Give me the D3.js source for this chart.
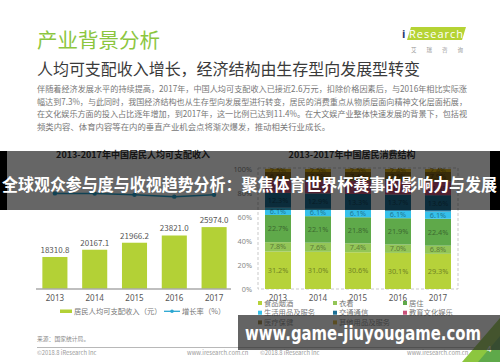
<!DOCTYPE html>
<html>
<head>
<meta charset="utf-8">
<script src="https://cdn.jsdelivr.net/npm/d3@7"></script>
<style>
  body { margin: 0; background: #fff; }
  svg { display: block; font-family: "Noto Sans CJK SC", "Noto Sans", sans-serif; }
</style>
</head>
<body>
<script>
// data
var years = ['2013', '2014', '2015', '2016', '2017'];
var income = [18310.8, 20167.1, 21966.2, 23821.0, 25974.0];
var growth = [8.1, 8.0, 7.4, 6.3, 7.3];

var categories = ['食品烟酒', '衣着', '居住', '生活用品及服务', '交通通信', '教育文化娱乐', '医疗保健', '其他用品及服务'];
var catColors = ['#b6d23a', '#93c557', '#5fa94a', '#35c0ea', '#1d6f94', '#c9517a', '#8d6b1a', '#dcae12'];
var food = [31.2, 31.0, 30.6, 30.1, 29.3];
var clothing = [7.8, 7.6, 7.4, 7.0, 6.8];
var housing = [22.7, 22.1, 21.8, 21.9, 22.4];
var household = [6.1, 6.1, 6.1, 6.1, 6.1];
var transport = [12.3, 12.9, 13.3, 13.7, 13.6];
var education = [10.6, 10.6, 11.0, 11.2, 11.4];
var medical = [6.9, 7.2, 7.4, 7.6, 7.9];
var other = [2.5, 2.5, 2.5, 2.4, 2.4];
var pctTicks = [0, 20, 40, 60, 80, 100];

var paragraph = [
  '伴随着经济发展水平的持续提高，2017年，中国人均可支配收入已接近2.6万元，扣除价格因素后，与2016年相比实际涨',
  '幅达到7.3%，与此同时，我国经济结构也从生存型向发展型进行转变，居民的消费重点从物质层面向精神文化层面拓展，',
  '在文化娱乐方面的投入占比逐年增加，到2017年，这一比例已达到11.4%。在大文娱产业整体快速发展的背景下，包括视',
  '频类内容、体育内容等在内的垂直产业机会点将渐次爆发，推动相关行业成长。'
];

var w = 500, h = 362;
var svg = d3.select('body').append('svg').attr('width', w).attr('height', h);

// header
svg.append('text').attr('x', 37).attr('y', 48).attr('font-size', 20.5)
  .attr('fill', '#8cc63f').text('产业背景分析');
svg.append('text').attr('x', 37).attr('y', 75).attr('font-size', 16)
  .attr('fill', '#3a3a3a').attr('textLength', 383).attr('lengthAdjust', 'spacingAndGlyphs')
  .text('人均可支配收入增长，经济结构由生存型向发展型转变');

// logo
svg.append('path').attr('d', 'M411,27 L466,27 L462,40 L407,40 Z').attr('fill', '#b5d334');
svg.append('text').attr('x', 402).attr('y', 38).attr('font-size', 11)
  .attr('font-family', 'Open Sans').attr('font-weight', 'bold').attr('fill', '#1f3a6e').text('i');
svg.append('text').attr('x', 409).attr('y', 38).attr('font-size', 11)
  .attr('font-family', 'Open Sans').attr('fill', '#fff').attr('textLength', 54).text('Research');
svg.append('text').attr('x', 411).attr('y', 52).attr('font-size', 5.5)
  .attr('fill', '#999').attr('textLength', 52).attr('lengthAdjust', 'spacing').text('艾瑞咨询');

svg.selectAll('.para').data(paragraph).enter().append('text')
  .attr('class', 'para')
  .attr('x', 37)
  .attr('y', function(d, i) { return 92 + i * 12.5; })
  .attr('font-size', 8.4)
  .attr('fill', '#777')
  .attr('textLength', function(d, i) { return i < 3 ? 430 : null; })
  .attr('lengthAdjust', 'spacingAndGlyphs')
  .text(function(d) { return d; });

// ---------- left chart: income bars + growth line
svg.append('text').attr('x', 133).attr('y', 158).attr('text-anchor', 'middle')
  .attr('font-size', 9).attr('font-weight', 'bold').attr('fill', '#333')
  .text('2013-2017年中国居民人均可支配收入');

var x1 = d3.scaleBand().domain(years).range([35, 234]).paddingInner(0.37).paddingOuter(0.185);
var y1 = d3.scaleLinear().domain([10100, 26000]).range([289, 227]);
var yg = d3.scaleLinear().domain([0, 10]).range([208, 190]);

svg.selectAll('.inc').data(income).enter().append('rect')
  .attr('class', 'inc')
  .attr('x', function(d, i) { return x1(years[i]); })
  .attr('y', function(d) { return y1(d); })
  .attr('width', x1.bandwidth())
  .attr('height', function(d) { return 289 - y1(d); })
  .attr('fill', '#b3d136');

svg.selectAll('.incl').data(income).enter().append('text')
  .attr('class', 'incl')
  .attr('x', function(d, i) { return x1(years[i]) + x1.bandwidth() / 2; })
  .attr('y', function(d) { return y1(d) - 4; })
  .attr('text-anchor', 'middle').attr('font-size', 8).attr('fill', '#555')
  .text(function(d) { return d.toFixed(1); });

var ax1 = svg.append('g').attr('transform', 'translate(0,289)')
  .call(d3.axisBottom(x1).tickSize(0).tickPadding(6));
ax1.select('.domain').attr('stroke', '#aaa').attr('stroke-width', 1.5).attr('d', 'M36,0H231');
ax1.selectAll('text').attr('font-size', 8).attr('fill', '#555').attr('font-family', 'Noto Sans');

var line = d3.line()
  .x(function(d, i) { return x1(years[i]) + x1.bandwidth() / 2; })
  .y(function(d) { return yg(d); });
svg.append('path').datum(growth).attr('d', line)
  .attr('fill', 'none').attr('stroke', '#2aa6d1').attr('stroke-width', 1.5);
svg.selectAll('.gdot').data(growth).enter().append('circle')
  .attr('cx', function(d, i) { return x1(years[i]) + x1.bandwidth() / 2; })
  .attr('cy', function(d) { return yg(d); })
  .attr('r', 2.2).attr('fill', '#2aa6d1');

// left legend
svg.append('rect').attr('x', 60).attr('y', 309.5).attr('width', 12).attr('height', 3.5).attr('fill', '#b3d136');
svg.append('text').attr('x', 74).attr('y', 314).attr('font-size', 7.3).attr('fill', '#777')
  .text('居民人均可支配收入（元）');
svg.append('line').attr('x1', 164).attr('x2', 180).attr('y1', 311.3).attr('y2', 311.3)
  .attr('stroke', '#2aa6d1').attr('stroke-width', 1.3);
svg.append('circle').attr('cx', 172).attr('cy', 311.3).attr('r', 1.8).attr('fill', '#2aa6d1');
svg.append('text').attr('x', 182).attr('y', 314).attr('font-size', 7.3).attr('fill', '#777')
  .text('增长率（%）');

// ---------- right chart: stacked consumption structure
svg.append('text').attr('x', 352).attr('y', 158).attr('text-anchor', 'middle')
  .attr('font-size', 9).attr('font-weight', 'bold').attr('fill', '#333')
  .text('2013-2017年中国居民消费结构');

var series = [food, clothing, housing, household, transport, education, medical, other];
var rows = years.map(function(y, i) {
  var r = {year: y};
  categories.forEach(function(c, k) { r[c] = series[k][i]; });
  return r;
});
var stacked = d3.stack().keys(categories)(rows);

var x2 = d3.scaleBand().domain(years).range([258, 458]).paddingInner(0.35).paddingOuter(0.175);
var y2 = d3.scaleLinear().domain([0, 100]).range([289, 169]);

svg.append('rect').attr('x', 258).attr('y', 168).attr('width', 200).attr('height', 121)
  .attr('fill', 'none').attr('stroke', '#bbb').attr('stroke-width', 0.8).attr('stroke-dasharray', '3,2');

var layers = svg.selectAll('.layer').data(stacked).enter().append('g')
  .attr('class', 'layer')
  .attr('fill', function(d, k) { return catColors[k]; });
layers.selectAll('rect').data(function(d) { return d; }).enter().append('rect')
  .attr('x', function(d) { return x2(d.data.year); })
  .attr('y', function(d) { return y2(d[1]); })
  .attr('width', x2.bandwidth())
  .attr('height', function(d) { return y2(d[0]) - y2(d[1]); });
layers.selectAll('text').data(function(d) { return d; }).enter().append('text')
  .attr('x', function(d) { return x2(d.data.year) + x2.bandwidth() / 2; })
  .attr('y', function(d) { return (y2(d[0]) + y2(d[1])) / 2 + 2.6; })
  .attr('text-anchor', 'middle').attr('font-size', 7.3)
  .attr('fill', function() { return d3.color(d3.select(this.parentNode).attr('fill')).darker(1.3); })
  .attr('font-family', 'Noto Sans')
  .text(function(d) { return (d[1] - d[0]).toFixed(1) + '%'; });

var ay2 = svg.append('g').attr('transform', 'translate(252,0)')
  .call(d3.axisLeft(y2).tickValues(pctTicks).tickSize(0).tickPadding(0)
    .tickFormat(function(d) { return d + '%'; }));
ay2.select('.domain').remove();
ay2.selectAll('text').attr('font-size', 7.3).attr('fill', '#888').attr('font-family', 'Noto Sans');

var ax2 = svg.append('g').attr('transform', 'translate(0,289)')
  .call(d3.axisBottom(x2).tickSize(0).tickPadding(6));
ax2.select('.domain').remove();
ax2.selectAll('text').attr('font-size', 8).attr('fill', '#555').attr('font-family', 'Noto Sans');

// right legend, 3 columns
var lg = svg.selectAll('.lg').data(categories).enter().append('g')
  .attr('transform', function(d, i) {
    return 'translate(' + [258, 333, 403][i % 3] + ',' + (305 + Math.floor(i / 3) * 9.7) + ')';
  });
lg.append('rect').attr('x', 0).attr('y', -4).attr('width', 4).attr('height', 4)
  .attr('fill', function(d, i) { return catColors[i]; });
lg.append('text').attr('x', 6).attr('y', 0.5).attr('font-size', 7.3).attr('fill', '#777')
  .text(function(d) { return d; });

// footer
svg.append('text').attr('x', 37).attr('y', 341).attr('font-size', 5.8).attr('fill', '#888').text('来源：国家统计局。');
svg.append('line').attr('x1', 37).attr('x2', 490).attr('y1', 347.5).attr('y2', 347.5)
  .attr('stroke', '#999').attr('stroke-width', 0.7);
svg.append('text').attr('x', 37).attr('y', 355).attr('font-size', 5.8).attr('fill', '#999').text('©2018.8 iResearch Inc');
svg.append('text').attr('x', 187).attr('y', 355).attr('font-size', 5.8).attr('fill', '#999').text('www.iresearch.com.cn');
svg.append('text').attr('x', 260).attr('y', 355).attr('font-size', 5.8).attr('fill', '#999').text('©2018.8 iResearch Inc');
svg.append('text').attr('x', 407).attr('y', 355).attr('font-size', 5.8).attr('fill', '#999').text('www.iresearch.com.cn');
svg.append('path').attr('d', 'M500,318 L500,362 L462,362 Z').attr('fill', '#8cc63f');
svg.append('path').attr('d', 'M500,336 L500,362 L478,362 Z').attr('fill', '#5fa94a');
svg.append('text').attr('x', 487).attr('y', 352).attr('font-size', 8).attr('fill', '#fff').text('4');

// overlay band with headline
svg.append('rect').attr('x', 0).attr('y', 151).attr('width', w).attr('height', 59).attr('fill', 'rgba(0,0,0,0.6)');
svg.append('rect').attr('x', 0).attr('y', 151).attr('width', 7).attr('height', 59).attr('fill', '#000');
svg.append('rect').attr('x', 490).attr('y', 151).attr('width', 10).attr('height', 59).attr('fill', '#000');
svg.append('text').attr('x', 2).attr('y', 191).attr('font-size', 16.5).attr('font-weight', 'bold')
  .attr('fill', '#fff').attr('textLength', 495).attr('lengthAdjust', 'spacingAndGlyphs')
  .text('全球观众参与度与收视趋势分析：聚焦体育世界杯赛事的影响力与发展');

// bottom banner
svg.append('rect').attr('x', 238).attr('y', 315).attr('width', 262).attr('height', 35).attr('fill', 'rgba(40,40,40,0.72)');
svg.append('text').attr('x', 245).attr('y', 340).attr('font-size', 19).attr('font-weight', 'bold')
  .attr('font-family', 'DejaVu Sans').attr('fill', '#fff')
  .attr('textLength', 236).attr('lengthAdjust', 'spacingAndGlyphs')
  .text('www.game-jiuyougame.com');
</script>
</body>
</html>
